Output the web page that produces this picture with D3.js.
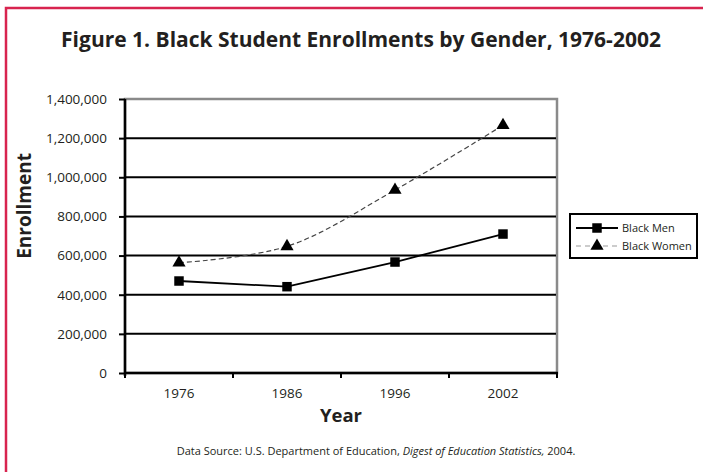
<!DOCTYPE html>
<html><head><meta charset="utf-8">
<script src="https://cdn.jsdelivr.net/npm/d3@7"></script>
<style>body{margin:0;background:#fff}svg{display:block}text{font-family:"Open Sans",sans-serif}</style>
</head><body><div id="c"></div>
<script>
const years = ["1976","1986","1996","2002"];
const blackMen = [470000, 441000, 567000, 710000];
const blackWomen = [563000, 647000, 935000, 1266000];
const yTicks = [0,200000,400000,600000,800000,1000000,1200000,1400000];
const seriesNames = ["Black Men","Black Women"];

const W=703,H=472;
const svg=d3.select("#c").append("svg").attr("width",W).attr("height",H);
// frame
svg.append("path").attr("d","M6,472 V8 H703").attr("fill","none").attr("stroke","#d8244f").attr("stroke-width",2.5);

const L=125,R=557,T=99,B=373;
const x=d3.scaleBand().domain(years).range([L,R]);
const y=d3.scaleLinear().domain([0,1400000]).range([B,T]);

svg.append("text").attr("x",361).attr("y",47).attr("text-anchor","middle")
 .attr("font-size",21).attr("font-weight","bold").attr("fill","#231f20")
 .text("Figure 1. Black Student Enrollments by Gender, 1976-2002");

// plot border gray
svg.append("rect").attr("x",L).attr("y",T).attr("width",R-L).attr("height",B-T)
 .attr("fill","none").attr("stroke","#8a8a8a").attr("stroke-width",2.5);
// gridlines
svg.append("g").selectAll("line").data(yTicks.filter(d=>d>0&&d<1400000)).join("line")
 .attr("x1",L).attr("x2",R-1).attr("y1",d=>y(d)).attr("y2",d=>y(d))
 .attr("stroke","#000").attr("stroke-width",2);

// axes
const ya=svg.append("g").attr("transform",`translate(${L},0)`)
 .call(d3.axisLeft(y).tickValues(yTicks).tickSize(6).tickPadding(12).tickFormat(d3.format(",")));
ya.select(".domain").attr("stroke","#000").attr("stroke-width",2.5).attr("d",`M0,${T}V${B+3}`);
ya.selectAll(".tick line").attr("stroke","#000").attr("stroke-width",2);
ya.selectAll("text").attr("font-size",13.5).attr("fill","#231f20").attr("font-family","Open Sans");

const xa=svg.append("g").attr("transform",`translate(0,${B})`)
 .call(d3.axisBottom(x).tickSize(0).tickPadding(15));
xa.select(".domain").remove();
xa.selectAll("text").attr("font-size",13.5).attr("fill","#231f20").attr("font-family","Open Sans");
svg.append("line").attr("x1",L-1).attr("x2",R+1).attr("y1",B).attr("y2",B).attr("stroke","#000").attr("stroke-width",2.5);
svg.append("g").selectAll("line").data([L,...years.map(d=>x(d)+x.bandwidth())]).join("line")
 .attr("x1",d=>d).attr("x2",d=>d).attr("y1",B).attr("y2",B+5).attr("stroke","#000").attr("stroke-width",2);

// axis titles
svg.append("text").attr("transform","translate(31,206) rotate(-90)").attr("text-anchor","middle")
 .attr("font-size",19).attr("font-weight","bold").attr("fill","#231f20").text("Enrollment");
svg.append("text").attr("x",341).attr("y",422).attr("text-anchor","middle")
 .attr("font-size",18.5).attr("font-weight","bold").attr("fill","#231f20").text("Year");

const cx=d=>x(d)+x.bandwidth()/2;
// women smoothed dashed
const lineW=d3.line().x((d,i)=>cx(years[i])).y(d=>y(d)).curve(d3.curveCatmullRom.alpha(0.5));
svg.append("path").attr("d",lineW(blackWomen)).attr("fill","none").attr("stroke","#444").attr("stroke-width",1.2).attr("stroke-dasharray","5,3");
const lineM=d3.line().x((d,i)=>cx(years[i])).y(d=>y(d));
svg.append("path").attr("d",lineM(blackMen)).attr("fill","none").attr("stroke","#000").attr("stroke-width",1.8);

const sq=d3.symbol().type(d3.symbolSquare).size(90);
const tri=d3.symbol().type(d3.symbolTriangle).size(75);
svg.append("g").selectAll("path").data(blackMen).join("path")
 .attr("transform",(d,i)=>`translate(${cx(years[i])},${y(d)})`).attr("d",sq).attr("fill","#000");
svg.append("g").selectAll("path").data(blackWomen).join("path")
 .attr("transform",(d,i)=>`translate(${cx(years[i])},${y(d)})`).attr("d",tri).attr("fill","#000");

// legend
const lg=svg.append("g");
lg.append("rect").attr("x",570).attr("y",214).attr("width",127).attr("height",44).attr("fill","#fff").attr("stroke","#000").attr("stroke-width",2);
lg.append("line").attr("x1",576).attr("x2",618).attr("y1",228).attr("y2",228).attr("stroke","#000").attr("stroke-width",1.8);
lg.append("path").attr("transform","translate(597,228)").attr("d",sq).attr("fill","#000");
lg.append("line").attr("x1",576).attr("x2",618).attr("y1",246).attr("y2",246).attr("stroke","#999").attr("stroke-width",1).attr("stroke-dasharray","5,4");
lg.append("path").attr("transform","translate(597,246)").attr("d",tri).attr("fill","#000");
lg.selectAll("text.l").data(seriesNames).join("text").attr("x",622).attr("y",(d,i)=>232+i*18)
 .attr("font-size",11).attr("fill","#231f20").text(d=>d);

// footnote
const ft=svg.append("text").attr("x",376).attr("y",455).attr("text-anchor","middle").attr("font-size",11).attr("fill","#231f20");
ft.append("tspan").text("Data Source: U.S. Department of Education, ");
ft.append("tspan").attr("font-style","italic").text("Digest of Education Statistics,");
ft.append("tspan").text(" 2004.");
</script></body></html>
